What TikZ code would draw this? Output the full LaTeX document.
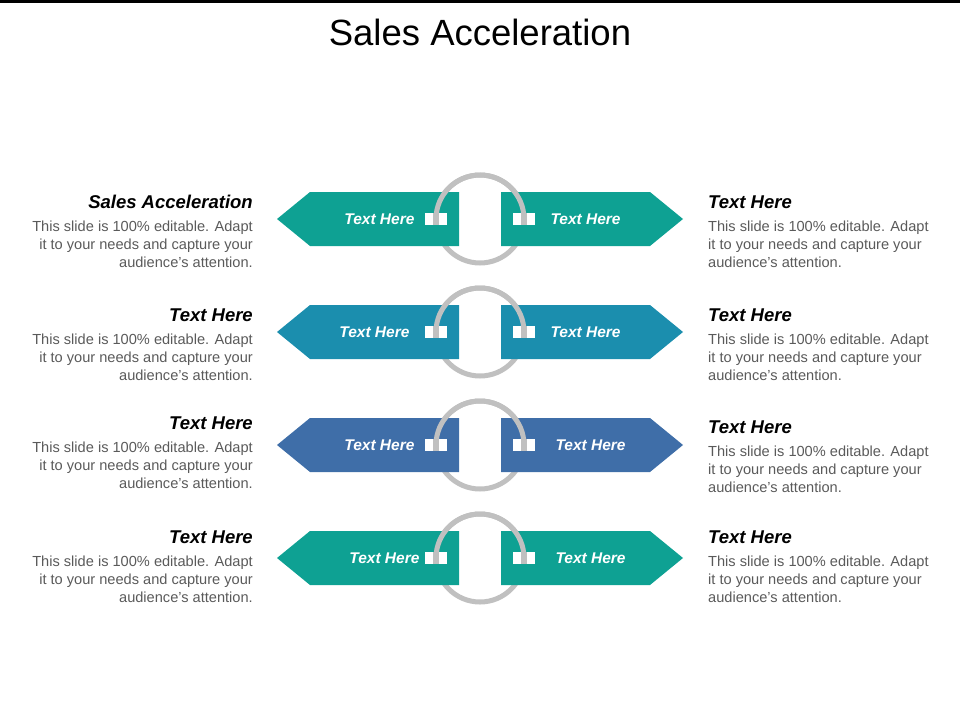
\documentclass[tikz,border=0pt]{standalone}
\usepackage{fontspec}
\setmainfont{Liberation Sans}
\definecolor{cA}{HTML}{0EA193}
\definecolor{cB}{HTML}{1B8EAE}
\definecolor{cC}{HTML}{3F6EA8}
\definecolor{ring}{HTML}{C0C0C0}
\definecolor{body}{HTML}{5A5A5A}
\begin{document}
\begin{tikzpicture}[x=1pt,y=-1pt,
  head/.style={font=\fontsize{18.5}{20}\selectfont\bfseries\itshape},
  bodytxt/.style={font=\fontsize{14.6}{18}\selectfont,text=body,inner sep=0},
  btxt/.style={font=\fontsize{15.5}{18}\selectfont\bfseries\itshape,text=white},
  sq/.style={fill=white,minimum width=22pt,minimum height=12pt,inner sep=0}]
\useasboundingbox (0,0) rectangle (960,720);
\fill[black] (0,0) rectangle (960,3);
\node (title) at (480,32) {\fontsize{36.5}{40}\selectfont Sales Acceleration};
\newcommand\bannerrow[6]{%
  \begin{scope}[shift={(0,#1)}]
  \draw[ring,line width=5pt] (480,0) circle (44);
  \fill[#2] (277,0) -- (310,-27) -- (459,-27) -- (459,27) -- (310,27) -- cycle;
  \fill[#2] (683,0) -- (650,-27) -- (501,-27) -- (501,27) -- (650,27) -- cycle;
  \draw[ring,line width=5pt] (436,0) arc (180:360:44);
  \node[sq] (sqL#6) at (436,0) {};
  \node[sq] (sqR#6) at (524,0) {};
  \fill[ring] (433,-6) rectangle (439,6);
  \fill[ring] (521,-6) rectangle (527,6);
  \node[btxt,anchor=east] (bl#6) at (#3,0) {Text Here};
  \node[btxt,anchor=west] (br#6) at (#4,0) {Text Here};
  \end{scope}}
\bannerrow{219}{cA}{418}{547}{}{1}
\bannerrow{332}{cB}{413}{547}{}{2}
\bannerrow{445}{cC}{418}{552}{}{3}
\bannerrow{558}{cA}{423}{552}{}{4}
\newcommand\sidetext[4]{%
  \node[head,anchor=east,inner sep=0] (hl#4) at (253,#1) {#3};
  \node[bodytxt,anchor=north east,align=right] (tl#4) at (253,#1+19) {This slide is 100\% editable. Adapt\\it to your needs and capture your\\audience's attention.};
  \node[head,anchor=west,inner sep=0] (hr#4) at (708,#2) {Text Here};
  \node[bodytxt,anchor=north west,align=left] (tr#4) at (708,#2+19) {This slide is 100\% editable. Adapt\\it to your needs and capture your\\audience's attention.};}
\sidetext{202}{202}{Sales Acceleration}{1}
\sidetext{315}{315}{Text Here}{2}
\sidetext{423}{427}{Text Here}{3}
\sidetext{537}{537}{Text Here}{4}
\end{tikzpicture}
\end{document}
